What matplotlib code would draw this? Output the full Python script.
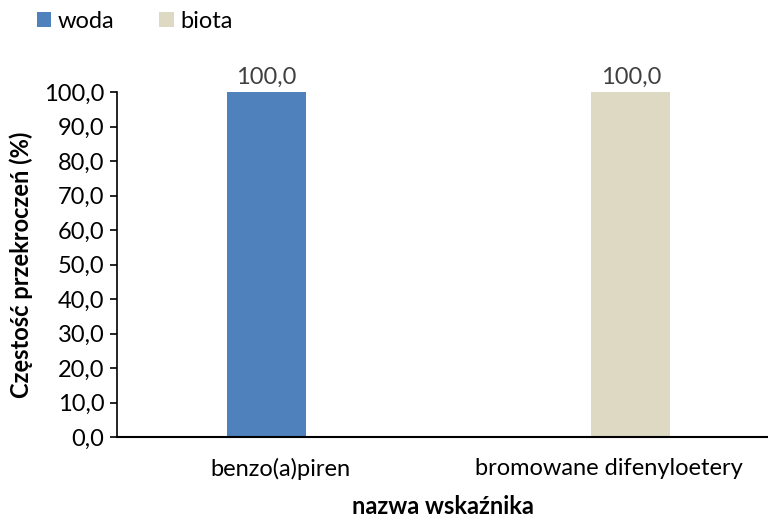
import numpy as np
import matplotlib.pyplot as plt

plt.rcParams['font.family'] = ['Lato', 'DejaVu Sans']

categories = ["benzo(a)piren", "bromowane difenyloetery"]
woda = [100.0, np.nan]
biota = [np.nan, 100.0]
yticks = np.arange(0, 101, 10)

fig = plt.figure(figsize=(7.68, 5.18), dpi=100)
ax = fig.add_axes([0.152, 0.156, 0.855, 0.666])

x = np.arange(len(categories))
w = 0.24
b1 = ax.bar(x - 0.044, woda, w, color="#4F81BD", label="woda")
b2 = ax.bar(x + 0.066, biota, w, color="#DDD9C3", label="biota")

for bars, vals in ((b1, woda), (b2, biota)):
    for r, v in zip(bars, vals):
        if not np.isnan(v):
            ax.text(r.get_x() + r.get_width() / 2, v + 1.2, f"{v:.1f}".replace(".", ","),
                    ha="center", va="bottom", fontsize=17, color="#404040")

ax.set_xlim(-0.5, 1.5)
ax.set_ylim(0, 100)
ax.set_yticks(yticks)
ax.set_yticklabels([f"{t:.1f}".replace(".", ",") for t in yticks], fontsize=17)
ax.set_xticks(x)
ax.set_xticklabels(categories, fontsize=17)
ax.tick_params(axis="x", length=0, pad=15)
ax.tick_params(axis="y", length=5, width=1.2, pad=4)
for s in ("top", "right"):
    ax.spines[s].set_visible(False)
ax.spines["left"].set_linewidth(1.2)
ax.spines["bottom"].set_linewidth(1.5)

ax.set_ylabel("Częstość przekroczeń (%)", fontsize=17, fontweight="bold", labelpad=8)
fig.text(0.577, 0.022, "nazwa wskaźnika", fontsize=17, fontweight="bold",
         ha="center", va="center")

fig.legend(handles=[b1, b2], loc="upper left", bbox_to_anchor=(0.02, 1.02), ncol=2,
           frameon=False, fontsize=17, handlelength=0.6, handleheight=0.6,
           handletextpad=0.3, columnspacing=1.9)

fig.savefig("out.png", dpi=100)
